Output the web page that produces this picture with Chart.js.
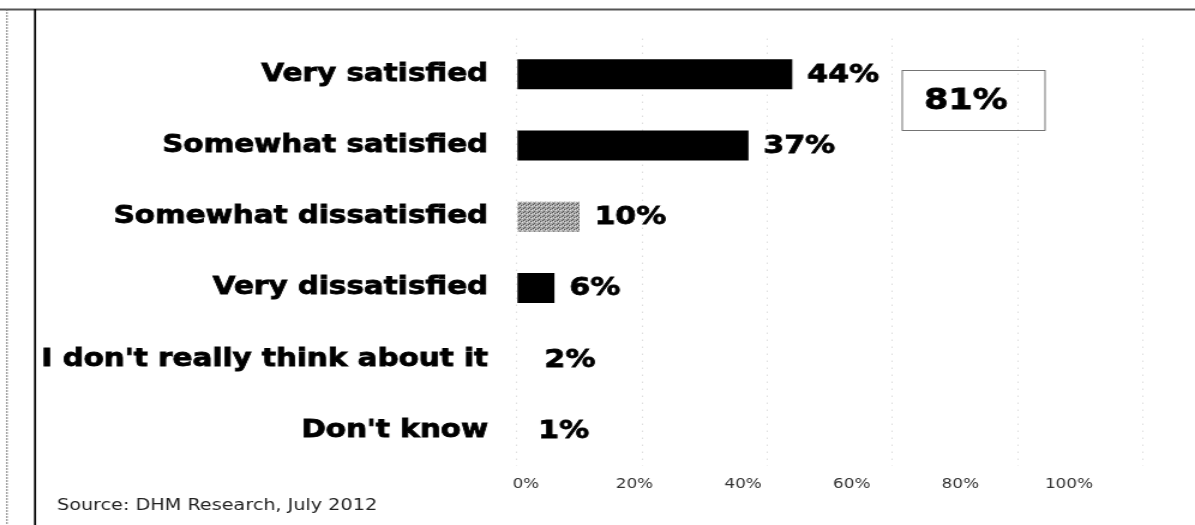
<!DOCTYPE html>
<html>
<head>
<meta charset="utf-8">
<script src="https://cdn.jsdelivr.net/npm/chart.js@4.4.1/dist/chart.umd.min.js"></script>
<style>
    body { margin: 0; background: #fff; overflow: hidden; }
    /* the reference picture is stretched sideways, so the canvas is too */
    #stretch { width: 996px; height: 525px; transform: scaleX(1.1998); transform-origin: 0 0; }
</style>
</head>
<body>
<div id="stretch"><canvas id="grafico" width="996" height="525"></canvas></div>
<script>
var categories = ['Very satisfied', 'Somewhat satisfied', 'Somewhat dissatisfied', 'Very dissatisfied', "I don't really think about it", "Don't know"];
var values = [44, 37, 10, 6, 2, 1];
var tickValues = [0, 20, 40, 60, 80, 100];
var sourceText = 'Source: DHM Research, July 2012';

var fontFamily = '"DejaVu Sans", Verdana, sans-serif';

// grey dotted texture for the "somewhat dissatisfied" bar
var patCanvas = document.createElement('canvas');
patCanvas.width = 4;
patCanvas.height = 4;
var pctx = patCanvas.getContext('2d');
pctx.fillStyle = '#a8a8a8';
pctx.fillRect(0, 0, 4, 4);
pctx.fillStyle = '#555';
pctx.fillRect(0, 0, 1, 1);
pctx.fillRect(2, 1, 1, 1);
pctx.fillRect(1, 3, 1, 1);
pctx.fillStyle = '#e0e0e0';
pctx.fillRect(3, 2, 1, 1);
pctx.fillRect(1, 1, 1, 1);
var greyPattern = pctx.createPattern(patCanvas, 'repeat');

var barColors = ['#000', '#000', greyPattern, '#000', 'rgba(0,0,0,0)', 'rgba(0,0,0,0)'];

var framePlugin = {
    id: 'frame',
    beforeDraw: function (chart) {
        var ctx = chart.ctx;
        ctx.save();
        ctx.fillStyle = '#fff';
        ctx.fillRect(0, 0, chart.width, chart.height);
        ctx.strokeStyle = '#555';
        ctx.lineWidth = 2;
        ctx.beginPath();
        ctx.moveTo(0, 9.5);
        ctx.lineTo(chart.width, 9.5);
        ctx.stroke();
        ctx.strokeStyle = '#000';
        ctx.lineWidth = 1.7;
        ctx.beginPath();
        ctx.moveTo(29.2, 9);
        ctx.lineTo(29.2, chart.height);
        ctx.stroke();
        ctx.strokeStyle = '#666';
        ctx.lineWidth = 0.9;
        ctx.setLineDash([2, 1]);
        ctx.beginPath();
        ctx.moveTo(5.8, 9);
        ctx.lineTo(5.8, chart.height);
        ctx.stroke();
        ctx.restore();
    },
    afterDatasetsDraw: function (chart) {
        var ctx = chart.ctx;
        var bars = chart.getDatasetMeta(0).data;
        ctx.save();
        ctx.fillStyle = '#000';
        ctx.strokeStyle = '#000';
        ctx.lineWidth = 0.8;
        ctx.font = 'bold 25px ' + fontFamily;
        ctx.textBaseline = 'middle';
        ctx.textAlign = 'left';
        for (var i = 0; i < bars.length; i++) {
            ctx.fillText(values[i] + '%', bars[i].x + 12.5, bars[i].y + 1);
            ctx.strokeText(values[i] + '%', bars[i].x + 12.5, bars[i].y + 1);
        }

        // box with the satisfied total
        var total = values[0] + values[1];
        ctx.font = 'bold 29px ' + fontFamily;
        ctx.textAlign = 'center';
        ctx.fillText(total + '%', 805, 101);
        ctx.strokeText(total + '%', 805, 101);
        ctx.strokeStyle = '#666';
        ctx.lineWidth = 0.9;
        ctx.strokeRect(752, 70.5, 119, 60);

        ctx.font = '16px ' + fontFamily;
        ctx.textAlign = 'left';
        ctx.textBaseline = 'alphabetic';
        ctx.fillStyle = '#222';
        ctx.fillText(sourceText, 47.5, 510);
        ctx.restore();
    }
};

var chart = new Chart(document.getElementById('grafico'), {
    type: 'bar',
    data: {
        labels: categories,
        datasets: [{
            data: values,
            backgroundColor: barColors,
            borderWidth: 0,
            categoryPercentage: 1,
            barPercentage: 0.42,
            xAxisID: 'x'
        }]
    },
    options: {
        indexAxis: 'y',
        responsive: false,
        animation: false,
        layout: { padding: { left: 0, right: 43.5, top: 33, bottom: 0 } },
        plugins: {
            legend: { display: false },
            tooltip: { enabled: false }
        },
        scales: {
            y: {
                type: 'category',
                grid: { display: false, drawTicks: false },
                border: { display: false },
                ticks: {
                    color: '#000',
                    textStrokeColor: '#000',
                    textStrokeWidth: 0.8,
                    padding: 24,
                    font: { family: fontFamily, weight: 'bold', size: 24.5 }
                },
                afterFit: function (scale) { scale.width = 430.8; }
            },
            x: {
                type: 'linear',
                position: 'bottom',
                min: 0,
                max: 100,
                grid: { color: '#cfcfcf', lineWidth: 1, drawTicks: false },
                border: { display: false, dash: [1, 6] },
                ticks: { display: false, stepSize: 20 },
                afterFit: function (scale) { scale.height = 0; }
            },
            xl: {
                type: 'linear',
                position: 'bottom',
                min: -1.66,
                max: 113.6,
                grid: { display: false, drawTicks: false },
                border: { display: false },
                afterBuildTicks: function (scale) {
                    scale.ticks = tickValues.map(function (v) { return { value: v }; });
                },
                ticks: {
                    autoSkip: false,
                    maxRotation: 0,
                    padding: 10,
                    color: '#333',
                    font: { family: fontFamily, size: 14 },
                    callback: function (v) { return v + '%'; }
                },
                afterFit: function (scale) { scale.height = 59; }
            }
        }
    },
    plugins: [framePlugin]
});
</script>
</body>
</html>
